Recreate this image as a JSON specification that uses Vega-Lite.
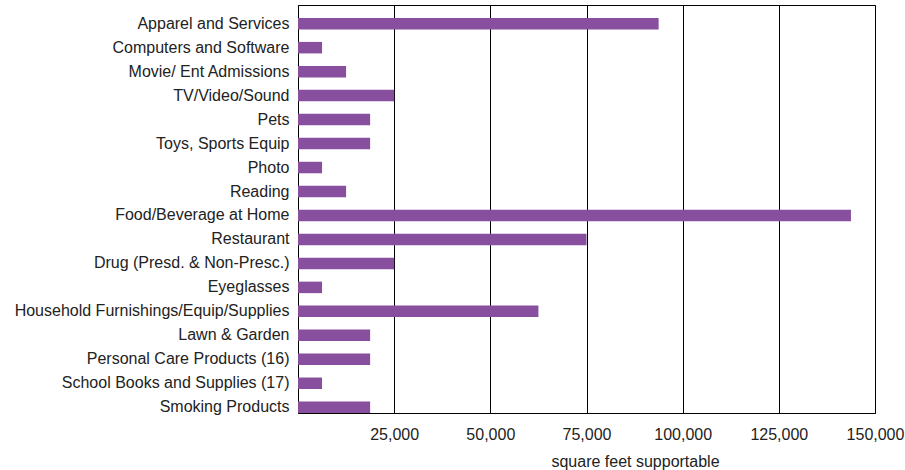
{
  "$schema": "https://vega.github.io/schema/vega-lite/v6.json",
  "width": 577,
  "height": 408,
  "autosize": {"type": "none"},
  "padding": {"left": 298, "top": 5, "right": 30, "bottom": 57},
  "background": "white",
  "config": {
    "view": {"stroke": "black", "strokeWidth": 1},
    "font": "Liberation Sans"
  },
  "data": {
    "values": [
      {"category": "Apparel and Services", "sqft": 93750},
      {"category": "Computers and Software", "sqft": 6250},
      {"category": "Movie/ Ent Admissions", "sqft": 12500},
      {"category": "TV/Video/Sound", "sqft": 25000},
      {"category": "Pets", "sqft": 18750},
      {"category": "Toys, Sports Equip", "sqft": 18750},
      {"category": "Photo", "sqft": 6250},
      {"category": "Reading", "sqft": 12500},
      {"category": "Food/Beverage at Home", "sqft": 143750},
      {"category": "Restaurant", "sqft": 75000},
      {"category": "Drug (Presd. & Non-Presc.)", "sqft": 25000},
      {"category": "Eyeglasses", "sqft": 6250},
      {"category": "Household Furnishings/Equip/Supplies", "sqft": 62500},
      {"category": "Lawn & Garden", "sqft": 18750},
      {"category": "Personal Care Products (16)", "sqft": 18750},
      {"category": "School Books and Supplies (17)", "sqft": 6250},
      {"category": "Smoking Products", "sqft": 18750}
    ]
  },
  "mark": {"type": "bar", "color": "#874F9E"},
  "encoding": {
    "y": {
      "field": "category",
      "type": "nominal",
      "sort": null,
      "scale": {"paddingInner": 0.52, "paddingOuter": 0.27, "align": 1},
      "axis": {
        "title": null,
        "ticks": false,
        "domain": true,
        "domainColor": "black",
        "labelFontSize": 16,
        "labelColor": "#222222",
        "labelPadding": 9,
        "labelLimit": 400
      }
    },
    "x": {
      "field": "sqft",
      "type": "quantitative",
      "scale": {"domain": [0, 150000], "nice": false},
      "axis": {
        "title": "square feet supportable",
        "values": [25000, 50000, 75000, 100000, 125000, 150000],
        "format": ",d",
        "grid": true,
        "gridColor": "black",
        "gridOpacity": 1,
        "gridWidth": 1,
        "ticks": false,
        "domain": true,
        "domainColor": "black",
        "labelFlush": false,
        "labelOverlap": false,
        "labelBound": false,
        "labelFontSize": 16,
        "labelColor": "#222222",
        "labelPadding": 13,
        "titleFontSize": 16,
        "titleFontWeight": "normal",
        "titleColor": "#222222",
        "titlePadding": 11,
        "titleX": 337,
        "titleAlign": "center"
      }
    }
  }
}
